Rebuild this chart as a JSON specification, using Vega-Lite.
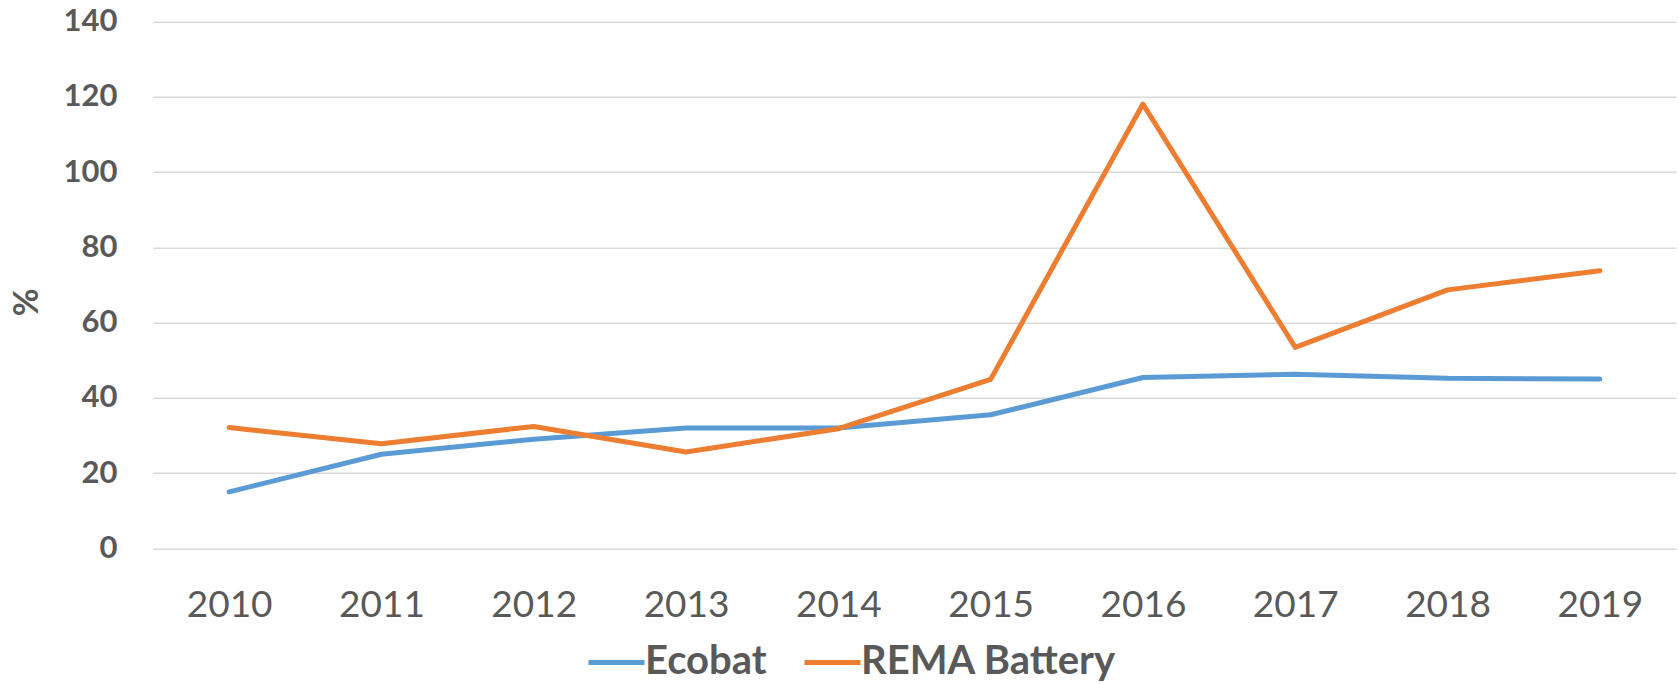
{
  "$schema": "https://vega.github.io/schema/vega-lite/v6.json",
  "autosize": "none",
  "width": 1523,
  "height": 526.6,
  "padding": {"left": 153, "top": 21.7, "right": 3, "bottom": 135.7},
  "background": "white",
  "config": {
    "view": {"stroke": null},
    "font": "Lato"
  },
  "data": {
    "values": [
      {"year": "2010", "series": "Ecobat", "value": 15.0},
      {"year": "2011", "series": "Ecobat", "value": 25.0},
      {"year": "2012", "series": "Ecobat", "value": 29.0},
      {"year": "2013", "series": "Ecobat", "value": 32.0},
      {"year": "2014", "series": "Ecobat", "value": 32.0},
      {"year": "2015", "series": "Ecobat", "value": 35.5},
      {"year": "2016", "series": "Ecobat", "value": 45.4},
      {"year": "2017", "series": "Ecobat", "value": 46.3},
      {"year": "2018", "series": "Ecobat", "value": 45.2},
      {"year": "2019", "series": "Ecobat", "value": 45.0},
      {"year": "2010", "series": "REMA Battery", "value": 32.1},
      {"year": "2011", "series": "REMA Battery", "value": 27.8},
      {"year": "2012", "series": "REMA Battery", "value": 32.4},
      {"year": "2013", "series": "REMA Battery", "value": 25.6},
      {"year": "2014", "series": "REMA Battery", "value": 31.8},
      {"year": "2015", "series": "REMA Battery", "value": 44.9},
      {"year": "2016", "series": "REMA Battery", "value": 118.1},
      {"year": "2017", "series": "REMA Battery", "value": 53.4},
      {"year": "2018", "series": "REMA Battery", "value": 68.7},
      {"year": "2019", "series": "REMA Battery", "value": 73.8}
    ]
  },
  "mark": {"type": "line", "strokeWidth": 5, "strokeCap": "round", "strokeJoin": "round"},
  "encoding": {
    "x": {
      "field": "year",
      "type": "ordinal",
      "scale": {"type": "point", "padding": 0.5},
      "axis": {
        "title": null,
        "domain": false,
        "ticks": false,
        "grid": false,
        "labelAngle": 0,
        "labelFont": "Lato",
        "labelFontSize": 37,
        "labelColor": "#595959",
        "labelPadding": 39
      }
    },
    "y": {
      "field": "value",
      "type": "quantitative",
      "scale": {"domain": [0, 140], "nice": false},
      "axis": {
        "values": [0, 20, 40, 60, 80, 100, 120, 140],
        "title": "%",
        "titleFont": "Lato",
        "titleFontSize": 34,
        "titleFontWeight": "bold",
        "titleColor": "#595959",
        "titleAngle": -90,
        "titleX": -126,
        "titleY": 280,
        "titleAlign": "center",
        "titleBaseline": "middle",
        "domain": false,
        "ticks": false,
        "grid": true,
        "gridColor": "#D9D9D9",
        "gridWidth": 1.5,
        "labelFont": "Lato",
        "labelFontSize": 31,
        "labelFontWeight": "bold",
        "labelColor": "#595959",
        "labelPadding": 36
      }
    },
    "color": {
      "field": "series",
      "type": "nominal",
      "scale": {"domain": ["Ecobat", "REMA Battery"], "range": ["#5B9BD5", "#ED7D31"]},
      "legend": {
        "title": null,
        "orient": "none",
        "direction": "horizontal",
        "legendX": 433,
        "legendY": 610,
        "symbolType": "stroke",
        "symbolSize": 3136,
        "symbolStrokeWidth": 5,
        "labelFont": "Lato",
        "labelFontSize": 40,
        "labelFontWeight": "bold",
        "labelColor": "#595959",
        "labelOffset": -2,
        "labelLimit": 500,
        "columnPadding": 27
      }
    }
  }
}
